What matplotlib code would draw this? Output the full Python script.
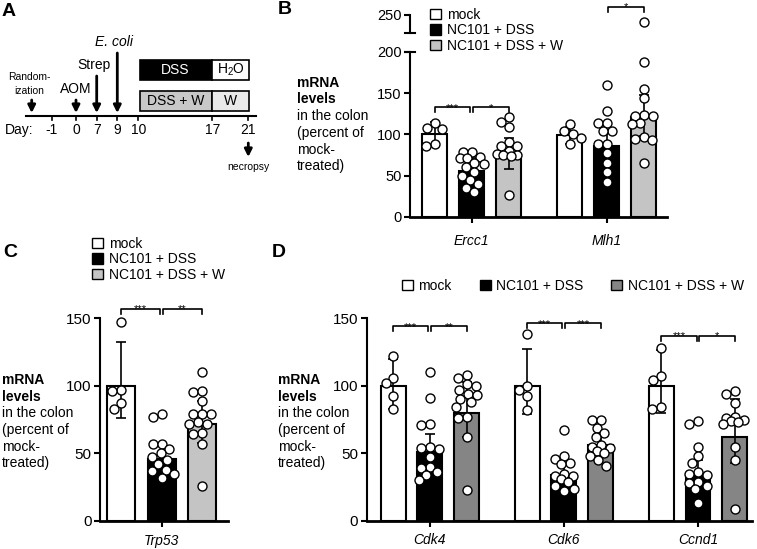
import numpy as np
import matplotlib.pyplot as plt
from matplotlib.patches import Patch, Rectangle

plt.rcParams['font.family'] = ['Liberation Sans', 'DejaVu Sans']
plt.rcParams['mathtext.fontset'] = 'custom'
plt.rcParams['mathtext.rm'] = 'Liberation Sans'
plt.rcParams['mathtext.it'] = 'Liberation Sans:italic'

W, H = 757, 549

groups = ['mock', 'NC101 + DSS', 'NC101 + DSS + W']
colors_light = ['white', 'black', '#c4c4c4']
colors_dark = ['white', 'black', '#858585']

# panel A - timeline
day_labels = ['-1', '0', '7', '9', '10', '17', '21']
day_pos = [51.7, 76, 96.7, 117.3, 138.3, 212.3, 248.3]
events = ['AOM', 'Strep', 'E. coli']
event_day = ['0', '7', '9']
event_top = [100, 76, 53]

# panel B
b_genes = ['Ercc1', 'Mlh1']
b_means = [[100, 56, 76], [99, 86, 121]]
b_sd_lo = [[14, 15, 18], [10, 18, 23]]
b_sd_hi = [[15, 15, 20], [10, 18, 27]]
b_points = [
    [[108, 114, 107, 88, 86],
     [79, 79, 73, 71, 71, 66, 64, 60, 55, 50, 45, 40, 35, 30],
     [121, 115, 109, 91, 86, 86, 80, 76, 75, 75, 74, 27]],
    [[113, 104, 101, 96, 89],
     [160, 129, 114, 114, 104, 104, 88, 88, 77, 65, 54, 43],
     [242, 188, 155, 144, 124, 123, 122, 114, 113, 97, 94, 93, 65]],
]
b_sig = [(0, 0, 1, 133, '***'), (0, 1, 2, 133, '*'), (1, 1, 2, 260, '*')]

# panel C
c_genes = ['Trp53']
c_means = [[100, 46, 72]]
c_sd_lo = [[24, 12, 14]]
c_sd_hi = [[32, 12, 17]]
c_points = [
    [[147, 97, 96, 87, 83],
     [79, 77, 57, 57, 53, 50, 47, 45, 42, 38, 37, 35, 32],
     [110, 95, 96, 89, 79, 79, 79, 73, 72, 72, 65, 64, 57, 26]],
]
c_sig = [(0, 0, 1, 157, '***'), (0, 1, 2, 157, '**')]

# panel D
d_genes = ['Cdk4', 'Cdk6', 'Ccnd1']
d_means = [[100, 51, 80], [100, 34, 56], [100, 35, 62]]
d_sd_lo = [[17, 13, 18], [21, 8, 8], [20, 10, 19]]
d_sd_hi = [[20, 13, 23], [27, 8, 8], [26, 10, 28]]
d_points = [
    [[122, 106, 102, 92, 83],
     [110, 91, 72, 71, 55, 54, 53, 47, 40, 39, 36, 34, 30],
     [108, 106, 101, 100, 97, 94, 93, 90, 88, 84, 77, 76, 62, 23]],
    [[138, 100, 97, 92, 82],
     [67, 48, 46, 43, 42, 35, 33, 33, 31, 29, 26, 24, 22],
     [75, 75, 69, 65, 62, 56, 55, 54, 52, 50, 48, 45, 41]],
    [[128, 107, 104, 84, 83],
     [74, 72, 55, 48, 43, 36, 35, 34, 29, 28, 26, 24, 13],
     [96, 94, 87, 77, 76, 75, 74, 73, 72, 55, 45, 9]],
]
d_sig = [(0, 0, 1, 144, '***'), (0, 1, 2, 144, '**'),
         (1, 0, 1, 146, '***'), (1, 1, 2, 146, '***'),
         (2, 0, 1, 137, '***'), (2, 1, 2, 137, '*')]

GAP = 3.65

fig = plt.figure(figsize=(W / 100, H / 100), dpi=100)


def px_axes(x0, y0, x1, y1):
    return fig.add_axes([x0 / W, 1 - y1 / H, (x1 - x0) / W, (y1 - y0) / H])


def px_scale(ax):
    # pixels per data unit in x and y
    bb = ax.get_position()
    x0, x1 = ax.get_xlim()
    y0, y1 = ax.get_ylim()
    return bb.width * W / (x1 - x0), bb.height * H / (y1 - y0)


def swarm(values, xc, sx, sy, half, d=9.0):
    order = np.argsort(values, kind='stable')[::-1]
    offs = sorted(np.arange(-half, half + 0.01, 0.5), key=lambda o: (abs(o), o))
    placed = []
    xs = np.zeros(len(values))
    for k in order:
        y = values[k] * sy
        pick, worst = 0.0, None
        for o in offs:
            gap = min([((o - px) ** 2 + (y - py) ** 2) ** 0.5
                       for px, py in placed] or [d])
            if gap >= d:
                pick = o
                break
            if worst is None or gap > worst:
                worst, pick = gap, o
        placed.append((pick, y))
        xs[k] = xc + pick / sx
    return xs


def style(ax, labelsize=11):
    for s in ['top', 'right']:
        ax.spines[s].set_visible(False)
    ax.spines['left'].set_linewidth(1.5)
    ax.spines['bottom'].set_linewidth(2)
    ax.tick_params(axis='y', direction='out', length=4, width=1.5,
                   labelsize=labelsize, pad=2)
    ax.tick_params(axis='x', direction='out', length=4, width=1.5,
                   labelsize=10, pad=5)


def bars(ax, genes, means, sd_lo, sd_hi, points, colors, width, half,
         top_ax=None, split=None):
    sx, sy = px_scale(ax)
    for g in range(len(genes)):
        for i in range(3):
            x = g * GAP + i - 1
            ax.bar(x, means[g][i], width, color=colors[i], edgecolor='black',
                   linewidth=1.5, zorder=1)
            ax.errorbar(x, means[g][i], yerr=[[sd_lo[g][i]], [sd_hi[g][i]]],
                        fmt='none', ecolor='black', elinewidth=1.2,
                        capsize=3.8, capthick=1.2, zorder=2)
            vals = np.array(points[g][i], dtype=float)
            xs = swarm(vals, x, sx, sy, half)
            low = vals <= (split if split else np.inf)
            ax.scatter(xs[low], vals[low], s=42, facecolor='white',
                       edgecolor='black', linewidths=1.0, zorder=3,
                       clip_on=False)
            if top_ax is not None and (~low).any():
                top_ax.scatter(xs[~low], vals[~low], s=42, facecolor='white',
                               edgecolor='black', linewidths=1.0, zorder=3,
                               clip_on=False)
    ax.set_xticks([g * GAP for g in range(len(genes))])
    ax.set_xticklabels(genes, fontstyle='italic')


def brackets(ax, sig, leg_px):
    sx, sy = px_scale(ax)
    leg = leg_px / sy
    for g, a, b, y, stars in sig:
        x1 = g * GAP + a - 1 + (0.04 if a == 1 else 0)
        x2 = g * GAP + b - 1 - (0.04 if b == 1 else 0)
        ax.plot([x1, x1, x2, x2], [y - leg, y, y, y - leg], color='black',
                lw=1.2, clip_on=False, zorder=4)
        ax.annotate(stars, xy=((x1 + x2) / 2, y), xytext=(0, -2.5),
                    textcoords='offset points', ha='center', va='baseline',
                    fontsize=8, annotation_clip=False)


def ylabel_block(x, y):
    lines = [('mRNA', 'bold'), ('levels', 'bold'), ('in the colon', 'normal'),
             ('(percent of', 'normal'), ('mock-', 'normal'),
             ('treated)', 'normal')]
    for k, (t, w) in enumerate(lines):
        fig.text(x / W, 1 - (y + k * 16.7) / H, t, fontsize=10, weight=w,
                 ha='left', va='center')


def legend(ax, colors, x, y, ncol=1, spacing=2.0):
    handles = [Patch(facecolor=c, edgecolor='black', linewidth=1.0)
               for c in colors]
    ax.legend(handles, groups, loc='upper left',
              bbox_to_anchor=(x / W, 1 - y / H), bbox_transform=fig.transFigure,
              frameon=False, fontsize=10, handlelength=0.8, handleheight=0.8,
              handletextpad=0.4, labelspacing=0.1, borderpad=0,
              borderaxespad=0, ncol=ncol, columnspacing=spacing)


# ---------- A ----------
axa = px_axes(0, 0, 262, 180)
axa.set_xlim(0, 262)
axa.set_ylim(180, 0)
axa.axis('off')
axa.plot([26, 256], [116, 116], color='black', lw=1.5)
for lab, x in zip(day_labels, day_pos):
    axa.plot([x, x], [116, 120], color='black', lw=1.2)
    axa.text(x, 130, lab, ha='center', va='center', fontsize=10)
axa.text(5, 130, 'Day:', ha='left', va='center', fontsize=10)
arrow = dict(arrowstyle='-|>', lw=2, color='black', mutation_scale=11,
             shrinkA=0, shrinkB=0)
axa.annotate('', xy=(31.7, 113), xytext=(31.7, 100), arrowprops=arrow)
axa.text(29, 83.5, 'Random-\nization', ha='center', va='center', fontsize=7.5,
         linespacing=1.5)
for name, d, top in zip(events, event_day, event_top):
    x = day_pos[day_labels.index(d)]
    axa.annotate('', xy=(x, 113), xytext=(x, top), arrowprops=arrow)
    axa.text(x - 3 if name != 'AOM' else x, top - 11, name, ha='center',
             va='center', fontsize=10,
             fontstyle='italic' if name == 'E. coli' else 'normal')
x10, x17, x21 = (day_pos[day_labels.index(k)] for k in ['10', '17', '21'])
box_rows = [(60, 'black', 'white', 'DSS', r'H$_\mathregular{2}$O', 'white'),
            (90.7, '#c8c8c8', '#e9e9e9', 'DSS + W', 'W', 'black')]
for top, c1, c2, t1, t2, tc in box_rows:
    axa.add_patch(Rectangle((x10 + 1.5, top), x17 - x10 - 1.5, 20,
                            facecolor=c1, edgecolor='black', lw=1.2))
    axa.add_patch(Rectangle((x17, top), x21 - x17 + 1, 20,
                            facecolor=c2, edgecolor='black', lw=1.2))
    axa.text((x10 + x17) / 2, top + 10, t1, color=tc, ha='center',
             va='center', fontsize=10)
    axa.text((x17 + x21) / 2 + 0.5, top + 10, t2, ha='center', va='center',
             fontsize=10)
axa.annotate('', xy=(x21, 157), xytext=(x21, 143), arrowprops=arrow)
axa.text(x21, 167, 'necropsy', ha='center', va='center', fontsize=7.5)

# ---------- B ----------
axb = px_axes(410, 52, 667, 217)
axb.set_xlim(-1.67, 5.28)
axb.set_ylim(0, 200)
axb_top = px_axes(410, 15, 667, 33)
axb_top.set_xlim(-1.67, 5.28)
axb_top.set_ylim(228, 250)
style(axb, 10.5)
style(axb_top, 10.5)
axb.set_yticks([0, 50, 100, 150, 200])
axb_top.set_yticks([250])
axb_top.spines['bottom'].set_visible(False)
axb_top.set_xticks([])
axb_top.patch.set_alpha(0)
axb.patch.set_alpha(0)
bars(axb, b_genes, b_means, b_sd_lo, b_sd_hi, b_points, colors_light,
     0.68, 12, top_ax=axb_top, split=200)
# break marks at the segment ends
for a, yv in [(axb, 200), (axb_top, 228)]:
    sx, _ = px_scale(a)
    xl = a.get_xlim()[0]
    a.plot([xl - 5 / sx, xl + 5 / sx], [yv, yv], color='black', lw=1.5,
           clip_on=False)
brackets(axb, b_sig[:2], 5)
brackets(axb_top, b_sig[2:], 5)
legend(axb, colors_light, 430, 8)
ylabel_block(297, 82.7)
axb.tick_params(axis='x', pad=8)

# ---------- C ----------
axc = px_axes(100, 318, 228, 521)
axc.set_xlim(-1.52, 1.64)
axc.set_ylim(0, 150)
style(axc)
axc.set_yticks([0, 50, 100, 150])
bars(axc, c_genes, c_means, c_sd_lo, c_sd_hi, c_points, colors_light,
     0.69, 13)
brackets(axc, c_sig, 5)
legend(axc, colors_light, 92, 237)
ylabel_block(2, 380)

# ---------- D ----------
axd = px_axes(366.7, 318, 752, 521)
axd.set_xlim(-1.72, 8.77)
axd.set_ylim(0, 150)
style(axd)
axd.set_yticks([0, 50, 100, 150])
bars(axd, d_genes, d_means, d_sd_lo, d_sd_hi, d_points, colors_dark,
     0.68, 12)
brackets(axd, d_sig, 5)
legend(axd, colors_dark, 401.7, 279, ncol=3, spacing=2.0)
ylabel_block(278, 380)

# panel letters
for t, x, y in [('A', 2, 11), ('B', 278, 10), ('C', 3, 252), ('D', 272, 252)]:
    fig.text(x / W, 1 - y / H, t, fontsize=14, weight='bold', ha='left',
             va='center')

fig.savefig('out.png', dpi=100)
